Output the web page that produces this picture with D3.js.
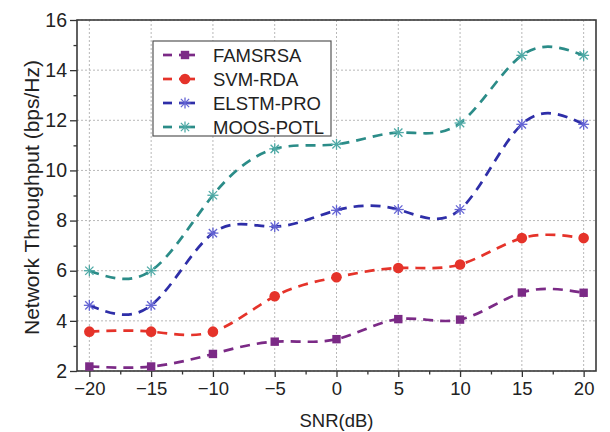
<!DOCTYPE html>
<html>
<head>
<meta charset="utf-8">
<script src="https://cdn.jsdelivr.net/npm/d3@7"></script>
<style>
  html, body { margin: 0; padding: 0; background: #fff; }
  svg { display: block; font-family: "Liberation Sans", Arial, sans-serif; }
</style>
</head>
<body>
<svg id="chart" width="610" height="432"></svg>
<script>
// ---- data ----
const snr = [-20, -15, -10, -5, 0, 5, 10, 15, 20];
const famsrsa = [2.18, 2.18, 2.68, 3.17, 3.27, 4.07, 4.05, 5.13, 5.12];
const svmRda = [3.57, 3.57, 3.57, 4.98, 5.74, 6.11, 6.25, 7.3, 7.3];
const elstmPro = [4.62, 4.62, 7.5, 7.76, 8.41, 8.44, 8.44, 11.84, 11.84];
const moosPotl = [6.0, 6.0, 9.01, 10.86, 11.04, 11.51, 11.89, 14.59, 14.59];
const seriesNames = ["FAMSRSA", "SVM-RDA", "ELSTM-PRO", "MOOS-POTL"];
const xTicks = [-20, -15, -10, -5, 0, 5, 10, 15, 20];
const yTicks = [2, 4, 6, 8, 10, 12, 14, 16];
const xLabel = "SNR(dB)";
const yLabel = "Network Throughput (bps/Hz)";

const series = [
  { name: seriesNames[0], values: famsrsa, color: "#7B2A86", marker: "square", mcolor: "#7B2A86" },
  { name: seriesNames[1], values: svmRda, color: "#E5332A", marker: "circle", mcolor: "#E5332A" },
  { name: seriesNames[2], values: elstmPro, color: "#2E2EA8", marker: "star", mcolor: "#6464D4" },
  { name: seriesNames[3], values: moosPotl, color: "#2B8C88", marker: "star", mcolor: "#4FAAA6" }
];

const svg = d3.select("#chart");
const L = 77, R = 596, T = 20, B = 371;
const x = d3.scaleLinear().domain([-21, 21]).range([L, R]);
const y = d3.scaleLinear().domain([2, 16]).range([B, T]);

// grid
const grid = svg.append("g");
grid.selectAll("line.gx").data(xTicks).join("line")
  .attr("x1", d => x(d)).attr("x2", d => x(d)).attr("y1", T).attr("y2", B)
  .attr("stroke", "#b8b8b8").attr("stroke-width", 1).attr("stroke-dasharray", "2,2");
grid.selectAll("line.gy").data(yTicks).join("line")
  .attr("x1", L).attr("x2", R).attr("y1", d => y(d)).attr("y2", d => y(d))
  .attr("stroke", "#b8b8b8").attr("stroke-width", 1).attr("stroke-dasharray", "2,2");

// axes
const xAxis = svg.append("g").attr("transform", `translate(0,${B})`)
  .call(d3.axisBottom(x).tickValues(xTicks).tickSize(6).tickPadding(5).tickFormat(d3.format("d")));
const xMinor = svg.append("g").attr("transform", `translate(0,${B})`)
  .call(d3.axisBottom(x).tickValues(d3.range(-17.5, 20, 5)).tickSize(3.5).tickFormat(""));
const yAxis = svg.append("g").attr("transform", `translate(${L},0)`)
  .call(d3.axisLeft(y).tickValues(yTicks).tickSize(7).tickPadding(3).tickFormat(d3.format("d")));
const yMinor = svg.append("g").attr("transform", `translate(${L},0)`)
  .call(d3.axisLeft(y).tickValues(d3.range(3, 16, 2)).tickSize(3.5).tickFormat(""));
[xAxis, xMinor, yAxis, yMinor].forEach(g => {
  g.select(".domain").remove();
  g.selectAll(".tick line").attr("stroke", "#333").attr("stroke-width", 1.3);
  g.selectAll("text").attr("fill", "#222")
    .attr("font-family", "'Liberation Sans', Arial, sans-serif");
});
xAxis.selectAll("text").attr("font-size", 18.5);
yAxis.selectAll("text").attr("font-size", 19.5);

// frame
svg.append("rect").attr("x", L).attr("y", T).attr("width", R - L).attr("height", B - T)
  .attr("fill", "none").attr("stroke", "#3a3a3a").attr("stroke-width", 1.6);

// axis titles
svg.append("text").attr("x", x(0)).attr("y", 427).attr("text-anchor", "middle")
  .attr("font-size", 18.5).attr("fill", "#222").text(xLabel);
svg.append("text").attr("transform", `translate(39,197.5) rotate(-90)`)
  .attr("text-anchor", "middle").attr("font-size", 21).attr("fill", "#222").text(yLabel);

// lines
const line = d3.line().x((d, i) => x(snr[i])).y(d => y(d)).curve(d3.curveNatural);
function drawMarker(g, type, cx, cy, color) {
  if (type === "square") {
    g.append("rect").attr("x", cx - 4.2).attr("y", cy - 4.2).attr("width", 8.4).attr("height", 8.4).attr("fill", color);
  } else if (type === "circle") {
    g.append("circle").attr("cx", cx).attr("cy", cy).attr("r", 5.3).attr("fill", color);
  } else {
    const r = 5.5;
    const segs = [[-r, 0, r, 0], [0, -r, 0, r], [-r * 0.75, -r * 0.75, r * 0.75, r * 0.75], [-r * 0.75, r * 0.75, r * 0.75, -r * 0.75]];
    segs.forEach(s => g.append("line")
      .attr("x1", cx + s[0]).attr("y1", cy + s[1]).attr("x2", cx + s[2]).attr("y2", cy + s[3])
      .attr("stroke", color).attr("stroke-width", 1.3));
  }
}
series.forEach(s => {
  const g = svg.append("g");
  g.append("path").datum(s.values).attr("d", line).attr("fill", "none")
    .attr("stroke", s.color).attr("stroke-width", 2.7).attr("stroke-dasharray", "10,7");
  s.values.forEach((v, i) => drawMarker(g, s.marker, x(snr[i]), y(v), s.mcolor));
});

// legend
const lg = svg.append("g");
lg.append("rect").attr("x", 153).attr("y", 41).attr("width", 178).attr("height", 95)
  .attr("fill", "#fff").attr("stroke", "#555").attr("stroke-width", 1.2);
series.forEach((s, i) => {
  const cy = 55 + i * 24;
  lg.append("line").attr("x1", 163).attr("x2", 172).attr("y1", cy).attr("y2", cy)
    .attr("stroke", s.color).attr("stroke-width", 2.7);
  lg.append("line").attr("x1", 179).attr("x2", 195).attr("y1", cy).attr("y2", cy)
    .attr("stroke", s.color).attr("stroke-width", 2.7);
  drawMarker(lg, s.marker, 185, cy, s.mcolor);
  lg.append("text").attr("x", 213).attr("y", cy + 6.5).attr("font-size", 18.5)
    .attr("fill", "#222").text(s.name);
});
</script>
</body>
</html>
